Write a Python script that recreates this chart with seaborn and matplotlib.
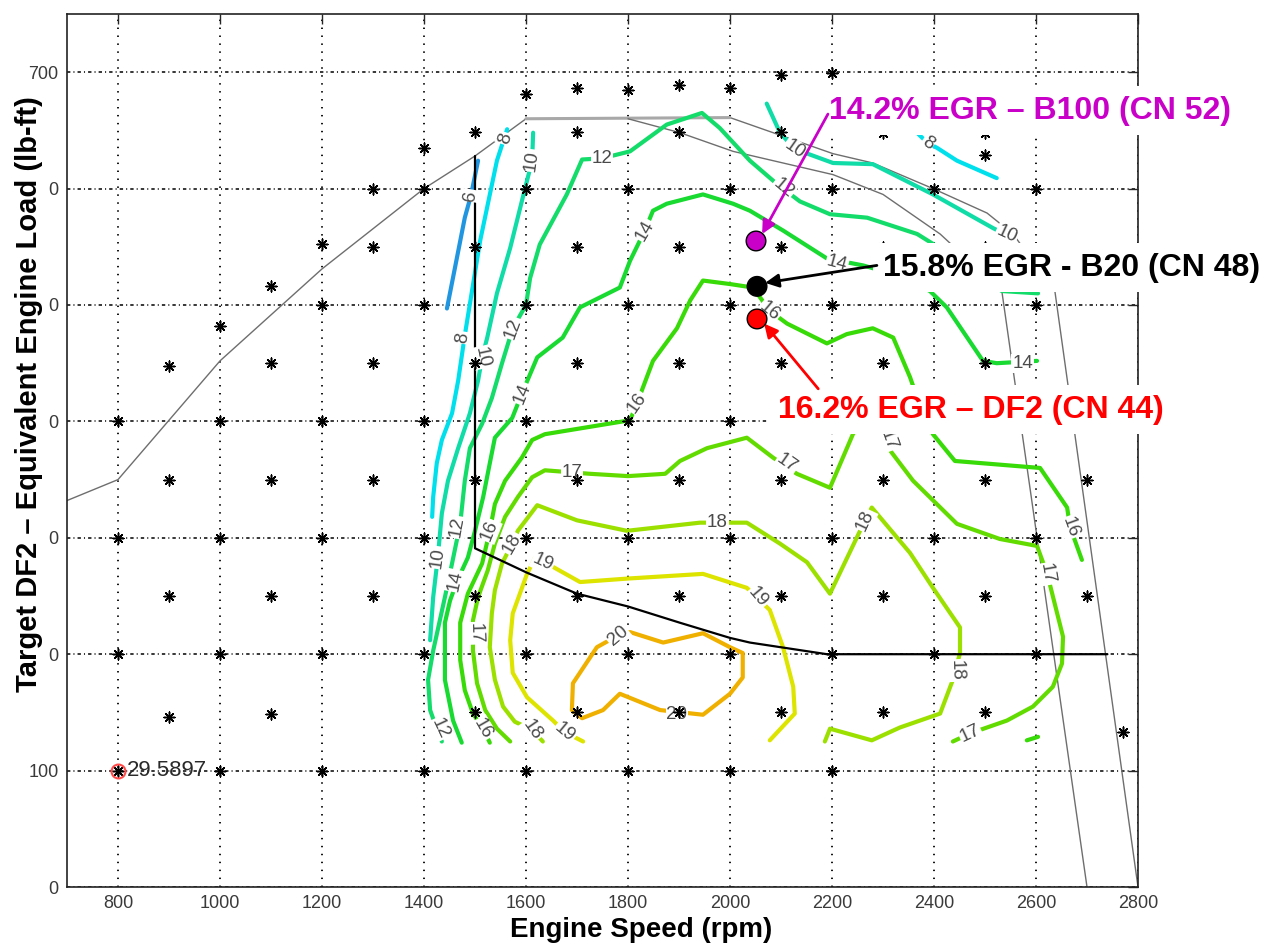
import matplotlib
matplotlib.use("Agg")
import matplotlib.pyplot as plt
import seaborn as sns

sns.set_theme(style="white")
plt.rcParams["font.family"] = ["Liberation Sans", "DejaVu Sans"]

# ---------------- data ----------------
# test points: engine speed -> loads (lb-ft)
test_loads = {
    800: [400, 300, 200, 100],
    900: [448, 350, 250, 146],
    1000: [482, 400, 300, 200, 100],
    1100: [516, 450, 350, 250, 149],
    1200: [552, 500, 400, 300, 200, 100],
    1300: [600, 550, 450, 350, 250],
    1400: [635, 600, 500, 400, 300, 200, 100],
    1500: [649, 550, 450, 350, 250, 150],
    1600: [681, 600, 500, 400, 300, 200, 100],
    1700: [686, 649, 550, 450, 350, 250, 150],
    1800: [685, 600, 500, 400, 300, 200, 100],
    1900: [689, 649, 550, 450, 350, 250, 150],
    2000: [686, 600, 500, 400, 300, 200, 100],
    2100: [698, 649, 550, 450, 350, 250, 150],
    2200: [699, 600, 500, 400, 300, 200, 100],
    2300: [648, 550, 450, 350, 250, 150],
    2400: [600, 500, 400, 300, 200],
    2500: [648, 629, 550, 450, 350, 250, 150],
    2600: [600, 500, 400, 300, 200],
    2700: [350, 250],
    2770: [133],
}

# EGR % contour traces (rpm, load)
c06_rpm = [1506, 1492, 1480, 1445]
c06_load = [624, 594, 575, 497]
c08a_rpm = [1563, 1543, 1510, 1480, 1467, 1455, 1435, 1425, 1418, 1416]
c08a_load = [651, 624, 555, 474, 435, 407, 384, 364, 335, 318]
c08b_rpm = [2369, 2388, 2406, 2445, 2523]
c08b_load = [647, 639, 635, 624, 609]
c10a_rpm = [1614, 1612, 1598, 1569, 1543, 1524, 1514, 1506, 1490, 1467, 1447, 1435, 1427, 1418, 1412]
c10a_load = [648, 624, 600, 549, 510, 472, 455, 435, 407, 377, 349, 321, 283, 249, 212]
c10b_rpm = [2072, 2098, 2127, 2202, 2280, 2398, 2516, 2539]
c10b_load = [673, 648, 634, 622, 621, 595, 566, 561]
c12_rpm = [1435, 1425, 1412, 1408, 1418, 1431, 1441, 1455, 1471, 1480, 1490, 1514, 1533, 1553, 1574,
           1600, 1608, 1627, 1680, 1710, 1749, 1804, 1876, 1945, 1980, 2039, 2092, 2137, 2196, 2269,
           2367, 2451, 2533, 2604]
c12_load = [125, 136, 152, 178, 203, 229, 249, 278, 312, 349, 377, 398, 420, 450, 480,
            500, 523, 552, 595, 625, 626, 632, 655, 665, 652, 624, 604, 589, 578, 575,
            561, 538, 512, 510]
c14_rpm = [1474, 1457, 1441, 1441, 1451, 1465, 1486, 1500, 1516, 1529, 1539, 1573, 1592, 1622, 1672,
           1706, 1784, 1804, 1833, 1849, 1876, 1947, 2006, 2039, 2104, 2190, 2261, 2333, 2392, 2425,
           2496, 2523, 2602]
c14_load = [124, 143, 178, 227, 246, 263, 283, 306, 335, 364, 386, 403, 424, 455, 472,
            498, 515, 538, 564, 581, 587, 595, 587, 581, 564, 540, 534, 525, 512, 498,
            452, 450, 452]
c16a_rpm = [1529, 1516, 1496, 1480, 1471, 1471, 1486, 1514, 1529, 1539, 1559, 1592, 1612, 1637, 1804,
            1818, 1849, 1896, 1922, 1947, 2000, 2045, 2078, 2112, 2190, 2229, 2280, 2320, 2353, 2376,
            2398, 2441, 2608, 2661, 2667, 2690]
c16a_load = [124, 136, 149, 169, 195, 227, 252, 278, 306, 329, 349, 369, 384, 389, 401,
             416, 452, 480, 504, 521, 518, 515, 495, 484, 467, 475, 480, 472, 438, 409,
             389, 366, 360, 326, 309, 281]
c16b_rpm = [2582, 2604]
c16b_load = [126, 129]
c17_rpm = [1569, 1543, 1520, 1504, 1496, 1496, 1506, 1525, 1539, 1559, 1584, 1612, 1637, 1725, 1800,
           1873, 1902, 1955, 2033, 2084, 2131, 2196, 2241, 2271, 2298, 2314, 2359, 2445, 2529, 2602,
           2622, 2653, 2651, 2633, 2594, 2543, 2471, 2437]
c17_load = [125, 136, 152, 175, 203, 229, 249, 272, 295, 318, 335, 352, 358, 355, 353,
            355, 366, 377, 386, 369, 355, 343, 389, 409, 396, 375, 349, 312, 299, 293,
            269, 215, 192, 172, 155, 143, 132, 125]
c18_rpm = [1633, 1612, 1578, 1555, 1539, 1529, 1533, 1539, 1553, 1573, 1584, 1622, 1700, 1798, 1941,
           2033, 2098, 2151, 2196, 2255, 2278, 2353, 2398, 2451, 2451, 2437, 2412, 2333, 2278, 2196,
           2186]
c18_load = [125, 135, 142, 155, 178, 206, 235, 255, 278, 295, 306, 328, 315, 306, 313,
            313, 295, 279, 252, 306, 326, 287, 257, 223, 201, 178, 149, 137, 126, 136,
            125]
c19_rpm = [1712, 1676, 1653, 1602, 1574, 1569, 1574, 1602, 1618, 1653, 1706, 1800, 1947, 2033, 2078,
           2104, 2124, 2127, 2078]
c19_load = [125, 133, 143, 163, 184, 212, 235, 269, 283, 275, 262, 265, 269, 257, 238,
            206, 172, 149, 126]
c20_rpm = [1780, 1739, 1692, 1690, 1710, 1751, 1784, 1863, 1947, 2000, 2025, 2025, 2000, 1947, 1869, 1804, 1780]
c20_load = [216, 206, 175, 152, 145, 152, 166, 152, 148, 166, 180, 201, 206, 218, 210, 219, 216]

# inline contour labels
lab_text = ["6", "8", "8", "8", "10", "10", "10", "10", "10",
            "12", "12", "12", "12", "12", "14", "14", "14", "14", "14",
            "16", "16", "16", "16", "16", "17", "17", "17", "17", "17", "17",
            "18", "18", "18", "18", "18", "19", "19", "19", "20", "20"]
lab_rpm = [1492, 1559, 1476, 2388, 1612, 1514, 1427, 2127, 2543,
           1749, 1574, 1465, 1431, 2104, 1833, 1592, 1461, 2210, 2574,
           1818, 2078, 1529, 1516, 2667, 1690, 2112, 1500, 2310, 2622, 2471,
           1573, 1975, 2265, 2445, 1612, 1633, 2055, 1676, 1780, 1896]
lab_load = [594, 643, 472, 639, 624, 455, 283, 634, 561,
            626, 480, 309, 136, 600, 564, 424, 263, 536, 450,
            416, 495, 306, 136, 309, 356, 364, 218, 384, 269, 132,
            295, 313, 315, 186, 135, 279, 249, 133, 216, 148]
lab_rot = [80, 72, 80, -35, 82, -78, 82, -35, -25,
           0, 70, 80, -65, -40, 60, 68, 78, -15, 0,
           55, -40, 68, -60, -70, 0, -35, -88, -70, -80, 25,
           60, 0, 65, -88, -55, -25, -50, -40, 40, 0]

# operating envelope and black reference line
env_outer_rpm = [700, 800, 1000, 1200, 1400, 1500, 1600, 2000, 2202, 2280, 2398, 2504, 2555, 2637, 2800]
env_outer_load = [332, 350, 452, 531, 600, 628, 660, 661, 630, 622, 600, 579, 561, 512, 0]
env_top_rpm = [1600, 2000]
env_top_load = [660, 661]
env_inner_rpm = [1800, 1902, 2006, 2202, 2300, 2412, 2533, 2700]
env_inner_load = [660, 648, 632, 612, 595, 561, 512, 0]
ref_rpm = [1500, 1500, 1602, 1700, 1800, 1902, 2000, 2039, 2190, 2740]
ref_load = [628, 291, 270, 252, 241, 227, 214, 210, 200, 200]

# highlighted EGR points
ann_text = ["14.2% EGR \u2013 B100 (CN 52)", "15.8% EGR - B20 (CN 48)", "16.2% EGR \u2013 DF2 (CN 44)"]
ann_color = ["#C800C8", "#000000", "#FF0000"]
dot_rpm = [2051, 2053, 2053]
dot_load = [555, 516, 488]
txt_rpm = [2194, 2300, 2094]
txt_load = [660, 525, 403]
tail_rpm = [2192, 2288, 2173]
tail_load = [664, 534, 428]
head_rpm = [2063, 2069, 2067]
head_load = [561, 519, 484]

x_ticks = [800, 1000, 1200, 1400, 1600, 1800, 2000, 2200, 2400, 2600, 2800]
y_ticks = [0, 100, 200, 300, 400, 500, 600, 700]
y_ticklabels = ["0", "100", "0", "0", "0", "0", "0", "700"]

level_color = {6: "#2196E0", 8: "#00E0EC", 10: "#10DCA8", 12: "#14DC6A", 14: "#18DA30",
               16: "#38DA08", 17: "#62DC00", 18: "#9CE000", 19: "#DCE400", 20: "#F0B000"}

traces = [(6, c06_rpm, c06_load), (8, c08a_rpm, c08a_load), (8, c08b_rpm, c08b_load),
          (10, c10a_rpm, c10a_load), (10, c10b_rpm, c10b_load), (12, c12_rpm, c12_load),
          (14, c14_rpm, c14_load), (16, c16a_rpm, c16a_load), (16, c16b_rpm, c16b_load),
          (17, c17_rpm, c17_load), (18, c18_rpm, c18_load), (19, c19_rpm, c19_load),
          (20, c20_rpm, c20_load)]

# ---------------- figure ----------------
fig = plt.figure(figsize=(12.64, 9.48), dpi=100)
ax = fig.add_axes([67 / 1264, 61 / 948, 1071 / 1264, 873 / 948])

# grid (MATLAB style dotted)
ax.set_axisbelow(True)
ax.xaxis.grid(True, color="black", linestyle=(0, (0.8, 3.6)), linewidth=1.3)
ax.yaxis.grid(True, color="black", linestyle=(0, (2.2, 2.0, 0.7, 2.0)), linewidth=1.1)

# envelope lines
sns.lineplot(x=env_outer_rpm, y=env_outer_load, sort=False, estimator=None, ax=ax,
             color="#6e6e6e", linewidth=1.0, legend=False, zorder=2)
sns.lineplot(x=env_top_rpm, y=env_top_load, sort=False, estimator=None, ax=ax,
             color="#a8a8a8", linewidth=2.2, legend=False, zorder=2)
sns.lineplot(x=env_inner_rpm, y=env_inner_load, sort=False, estimator=None, ax=ax,
             color="#6e6e6e", linewidth=1.0, legend=False, zorder=2)

# contours
for lvl, xs, ys in traces:
    sns.lineplot(x=xs, y=ys, sort=False, estimator=None, ax=ax, color=level_color[lvl],
                 linewidth=3.0, legend=False, zorder=3, solid_joinstyle="round")

# black reference line
sns.lineplot(x=ref_rpm, y=ref_load, sort=False, estimator=None, ax=ax,
             color="black", linewidth=1.6, legend=False, zorder=3.5)

# contour labels
for s, xr, yl, rot in zip(lab_text, lab_rpm, lab_load, lab_rot):
    ax.text(xr, yl, s, rotation=rot, rotation_mode="anchor", ha="center", va="center",
            fontsize=13.5, color="#4a4a4a", zorder=4,
            bbox=dict(boxstyle="square,pad=0.05", fc="white", ec="none"))

# test points
pts_rpm = [r for r, loads in test_loads.items() for _ in loads]
pts_load = [l for loads in test_loads.values() for l in loads]
sns.scatterplot(x=pts_rpm, y=pts_load, marker=(8, 2, 0), s=60, color="black",
                linewidth=1.1, ax=ax, legend=False, zorder=5)

# data tip
ax.plot(800, 100, "o", mfc="none", mec="#FF4A4A", ms=10, mew=1.5, zorder=6)
ax.text(817, 100, "29.5897", fontsize=16, color="#2a2a2a", va="center", ha="left", zorder=6)

# annotation boxes and arrows
for t, c, xr, yl in zip(ann_text, ann_color, txt_rpm, txt_load):
    ax.text(xr, yl, t, color=c, fontsize=23, fontweight="bold", ha="left", va="baseline",
            zorder=10, clip_on=False,
            bbox=dict(boxstyle="square,pad=0.3", fc="white", ec="none"))
for c, x0, y0, x1, y1 in zip(ann_color, tail_rpm, tail_load, head_rpm, head_load):
    ax.annotate("", xy=(x1, y1), xytext=(x0, y0), zorder=11,
                arrowprops=dict(arrowstyle="-|>", color=c, lw=2, mutation_scale=20,
                                shrinkA=0, shrinkB=0))
sns.scatterplot(x=dot_rpm, y=dot_load, hue=ann_text, hue_order=ann_text, palette=ann_color,
                s=200, edgecolor="black", linewidth=1, ax=ax, legend=False, zorder=12)

# axes styling
ax.set_xlim(700, 2800)
ax.set_ylim(0, 750)
ax.set_xticks(x_ticks)
ax.set_yticks(y_ticks)
ax.set_yticklabels(y_ticklabels)
ax.tick_params(direction="in", length=7, width=1, top=True, right=True,
               labelsize=13, labelcolor="#3a3a3a", pad=6)
for sp in ax.spines.values():
    sp.set_color("#222222")
    sp.set_linewidth(1.2)

ax.set_xlabel("Engine Speed (rpm)", fontsize=20, fontweight="bold", color="black")
ax.set_ylabel("Target DF2 \u2013 Equivalent Engine Load (lb-ft)", fontsize=21,
              fontweight="bold", color="black")
ax.xaxis.set_label_coords(0.536, -0.034)
ax.yaxis.set_label_coords(-0.022, 0.565)

fig.savefig("out.png", dpi=100)
